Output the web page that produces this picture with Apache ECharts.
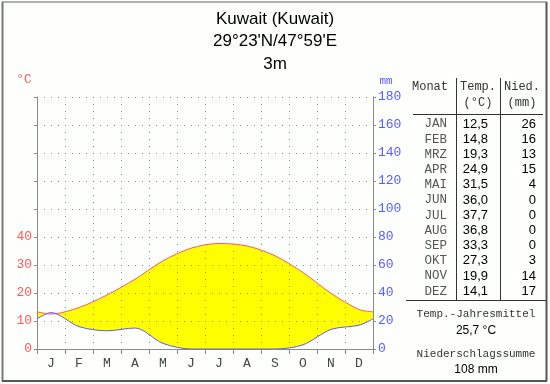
<!DOCTYPE html>
<html><head><meta charset="utf-8">
<script src="https://cdn.jsdelivr.net/npm/echarts@6/dist/echarts.min.js"></script>
<style>html,body{margin:0;padding:0;background:#fdfffd}#c{width:550px;height:384px}</style>
</head><body><div id="c"></div>
<script>
const titleLines = ['Kuwait (Kuwait)', "29°23'N/47°59'E", '3m'];
const monthLetters = ['J','F','M','A','M','J','J','A','S','O','N','D'];
const monthNames = ['JAN','FEB','MRZ','APR','MAI','JUN','JUL','AUG','SEP','OKT','NOV','DEZ'];
const temps = [12.5,14.8,19.3,24.9,31.5,36.0,37.7,36.8,33.3,27.3,19.9,14.1];
const precip = [26,16,13,15,4,0,0,0,0,3,14,17];
const edgeTemp = 13.3;   // value of the curve at the year boundary
const edgePrec = 21.5;   // mm, at the year boundary
const annualMean = '25,7 °C';
const annualSum = '108 mm';

const xs = [0].concat(monthLetters.map((_, i) => i + 0.5), [12]);
const tAll = [edgeTemp].concat(temps, [edgeTemp]);
const pAll = [edgePrec].concat(precip, [edgePrec]);
const tempData = xs.map((x, i) => [x, tAll[i]]);
const precData = xs.map((x, i) => [x, pAll[i]]);

const fmt = v => v.toFixed(1).replace('.', ',');
const mono = 'Liberation Mono, DejaVu Sans Mono, monospace';
const sans = 'Liberation Sans, Arial, sans-serif';
const RED = '#ff5a5a', BLUE = '#5a5aff', GRID = '#8a8a8a', BG = '#fdfffd';

const graphics = [];
titleLines.forEach((t, i) => graphics.push({type: 'text', style: {text: t, x: 275, y: 19 + i * 22.5, font: '17px ' + sans, fill: '#000', textAlign: 'center', textVerticalAlign: 'middle'}}));
graphics.push({type: 'text', style: {text: '°C', x: 24, y: 80, font: '13px ' + mono, fill: RED, textAlign: 'center', textVerticalAlign: 'middle'}});
graphics.push({type: 'text', style: {text: 'mm', x: 386, y: 81, font: '11px ' + mono, fill: BLUE, textAlign: 'center', textVerticalAlign: 'middle'}});
// table header
graphics.push({type: 'text', style: {text: 'Monat', x: 412, y: 87, font: '12px ' + mono, fill: '#333', textVerticalAlign: 'middle'}});
graphics.push({type: 'text', style: {text: 'Temp.', x: 478, y: 87, font: '12px ' + mono, fill: '#333', textAlign: 'center', textVerticalAlign: 'middle'}});
graphics.push({type: 'text', style: {text: '(°C)', x: 478, y: 103, font: '12px ' + mono, fill: '#333', textAlign: 'center', textVerticalAlign: 'middle'}});
graphics.push({type: 'text', style: {text: 'Nied.', x: 522, y: 87, font: '12px ' + mono, fill: '#333', textAlign: 'center', textVerticalAlign: 'middle'}});
graphics.push({type: 'text', style: {text: '(mm)', x: 522, y: 103, font: '12px ' + mono, fill: '#333', textAlign: 'center', textVerticalAlign: 'middle'}});
graphics.push({type: 'line', shape: {x1: 413, y1: 114.5, x2: 543, y2: 114.5}, style: {stroke: '#333', lineWidth: 1}});
graphics.push({type: 'line', shape: {x1: 456.5, y1: 78, x2: 456.5, y2: 300}, style: {stroke: '#333', lineWidth: 1}});
graphics.push({type: 'line', shape: {x1: 500.5, y1: 78, x2: 500.5, y2: 300}, style: {stroke: '#333', lineWidth: 1}});
graphics.push({type: 'line', shape: {x1: 406, y1: 300.5, x2: 547, y2: 300.5}, style: {stroke: '#333', lineWidth: 1}});
monthNames.forEach((m, i) => {
  const y = 124 + i * 15.2;
  graphics.push({type: 'text', style: {text: m, x: 447, y: y, font: '12.5px ' + mono, fill: '#555', textAlign: 'right', textVerticalAlign: 'middle'}});
  graphics.push({type: 'text', style: {text: fmt(temps[i]), x: 488, y: y, font: '13px ' + sans, fill: '#000', textAlign: 'right', textVerticalAlign: 'middle'}});
  graphics.push({type: 'text', style: {text: String(precip[i]), x: 536, y: y, font: '13px ' + sans, fill: '#000', textAlign: 'right', textVerticalAlign: 'middle'}});
});
graphics.push({type: 'text', style: {text: 'Temp.-Jahresmittel', x: 476, y: 314, font: '11px ' + mono, fill: '#333', textAlign: 'center', textVerticalAlign: 'middle'}});
graphics.push({type: 'text', style: {text: annualMean, x: 476, y: 331, font: '12px ' + sans, fill: '#000', textAlign: 'center', textVerticalAlign: 'middle'}});
graphics.push({type: 'text', style: {text: 'Niederschlagssumme', x: 476, y: 354, font: '11px ' + mono, fill: '#333', textAlign: 'center', textVerticalAlign: 'middle'}});
graphics.push({type: 'text', style: {text: annualSum, x: 476, y: 370, font: '12px ' + sans, fill: '#000', textAlign: 'center', textVerticalAlign: 'middle'}});
// frame
graphics.push({type: 'line', shape: {x1: 2, y1: 2, x2: 547, y2: 2}, style: {stroke: '#999', lineWidth: 1.5}});
graphics.push({type: 'line', shape: {x1: 2.5, y1: 2, x2: 2.5, y2: 381}, style: {stroke: '#777', lineWidth: 2}});
graphics.push({type: 'line', shape: {x1: 2, y1: 381, x2: 547, y2: 381}, style: {stroke: '#555', lineWidth: 2}});
graphics.push({type: 'line', shape: {x1: 546.5, y1: 2, x2: 546.5, y2: 381}, style: {stroke: '#555', lineWidth: 2}});

const chart = echarts.init(document.getElementById('c'), null, {renderer: 'canvas'});
chart.setOption({
  animation: false,
  backgroundColor: BG,
  grid: {left: 37, right: 177, top: 97, bottom: 35},
  xAxis: [
    {type: 'category', data: monthLetters, boundaryGap: true, position: 'bottom', z: 3,
     axisLine: {lineStyle: {color: GRID, width: 1}},
     axisTick: {show: true, interval: 0, length: 5, lineStyle: {color: GRID}},
     axisLabel: {interval: 0, color: '#444', fontFamily: mono, fontSize: 13, margin: 8},
     splitLine: {show: true, interval: 0, lineStyle: {color: GRID, type: [1, 6], width: 1}}},
    {type: 'value', min: 0, max: 12, show: false}
  ],
  yAxis: [
    {type: 'value', min: 0, max: 90, interval: 10, z: 3,
     axisLine: {show: true, lineStyle: {color: GRID}},
     axisTick: {show: true, length: 3, lineStyle: {color: GRID}},
     axisLabel: {color: RED, fontFamily: mono, fontSize: 13, margin: 5, formatter: v => v <= 40 ? String(v) : ''},
     splitLine: {show: true, lineStyle: {color: GRID, type: [1, 6], width: 1}}},
    {type: 'value', min: 0, max: 180, interval: 20, position: 'right', z: 3,
     axisLine: {show: true, lineStyle: {color: GRID}},
     axisTick: {show: true, length: 3, lineStyle: {color: GRID}},
     axisLabel: {color: BLUE, fontFamily: mono, fontSize: 13, margin: 5},
     splitLine: {show: false}}
  ],
  series: [
    {type: 'line', xAxisIndex: 1, yAxisIndex: 0, data: tempData, smooth: 0.3, symbol: 'none', lineStyle: {opacity: 0}, areaStyle: {color: '#ffff00', opacity: 1}, z: 1},
    {type: 'line', xAxisIndex: 1, yAxisIndex: 1, data: precData, smooth: 0.3, symbol: 'none', lineStyle: {opacity: 0}, areaStyle: {color: BG, opacity: 1}, z: 2},
    {type: 'line', xAxisIndex: 1, yAxisIndex: 0, data: tempData, smooth: 0.3, symbol: 'none', lineStyle: {color: RED, width: 1}, z: 5},
    {type: 'line', xAxisIndex: 1, yAxisIndex: 1, data: precData, smooth: 0.3, symbol: 'none', lineStyle: {color: BLUE, width: 1}, z: 5}
  ],
  graphic: graphics
});
</script></body></html>
